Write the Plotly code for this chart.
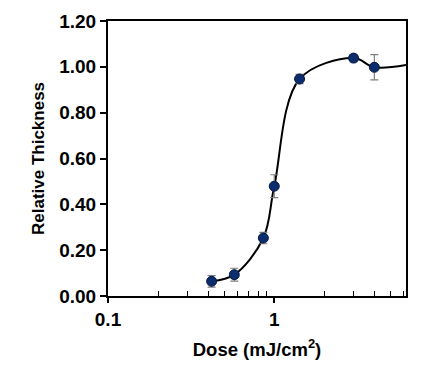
import plotly.graph_objects as go

dose = [0.42, 0.575, 0.86, 1.0, 1.42, 3.0, 4.0]
thickness = [0.064, 0.093, 0.253, 0.479, 0.947, 1.038, 0.998]
err = [0.025, 0.028, 0.025, 0.05, 0.02, 0.015, 0.055]
# fitted-curve tail beyond the last point
curve_x = dose + [6.2]
curve_y = thickness + [1.008]

y_ticks = [0, 0.2, 0.4, 0.6, 0.8, 1.0, 1.2]
y_labels = ["0.00", "0.20", "0.40", "0.60", "0.80", "1.00", "1.20"]
x_ticks = [0.1, 1]
x_labels = ["0.1", "1"]

FONT = "Liberation Sans, Arial"

fig = go.Figure()
fig.add_trace(go.Scatter(
    x=curve_x, y=curve_y, mode="lines",
    line=dict(color="black", width=2, shape="spline", smoothing=1.0),
    hoverinfo="skip", showlegend=False))
fig.add_trace(go.Scatter(
    x=dose, y=thickness, mode="markers",
    marker=dict(color="#0B2D6E", size=10, line=dict(color="#061a40", width=1)),
    error_y=dict(type="data", array=err, color="#7f7f7f", thickness=1.2, width=4),
    showlegend=False))

# the page body adds an 8px offset, so the figure is sized/margined to compensate
fig.update_layout(
    width=417, height=367,
    margin=dict(l=100, r=19, t=13, b=79, autoexpand=False),
    plot_bgcolor="white", paper_bgcolor="white",
    font=dict(family=FONT, size=19, color="black"),
)
fig.update_xaxes(
    type="log", range=[-1, 0.7924], automargin=False,
    tickvals=x_ticks, ticktext=x_labels,
    ticks="outside", ticklen=5, tickwidth=1.5, tickcolor="black",
    minor=dict(ticks="inside", ticklen=5, tickwidth=1, tickcolor="black",
               tickvals=[0.2, 0.3, 0.4, 0.5, 0.6, 0.7, 0.8, 0.9, 2, 3, 4, 5, 6]),
    showline=True, linecolor="black", linewidth=2, mirror=True,
    showgrid=False, zeroline=False,
    tickfont=dict(size=19, family=FONT, weight="bold"),
    title=dict(text="<b>Dose (mJ/cm<sup>2</sup>)</b>", standoff=14,
               font=dict(size=18.5, family=FONT)),
)
fig.update_yaxes(
    range=[0, 1.2], automargin=False,
    tickvals=y_ticks, ticktext=y_labels,
    ticks="outside", ticklen=6, tickwidth=1.5, tickcolor="black",
    showline=True, linecolor="black", linewidth=2, mirror=True,
    showgrid=False, zeroline=False,
    tickfont=dict(size=19, family=FONT, weight="bold"),
    title=dict(text="<b>Relative Thickness</b>", standoff=10,
               font=dict(size=17, family=FONT)),
)

fig.write_html("out.html")
